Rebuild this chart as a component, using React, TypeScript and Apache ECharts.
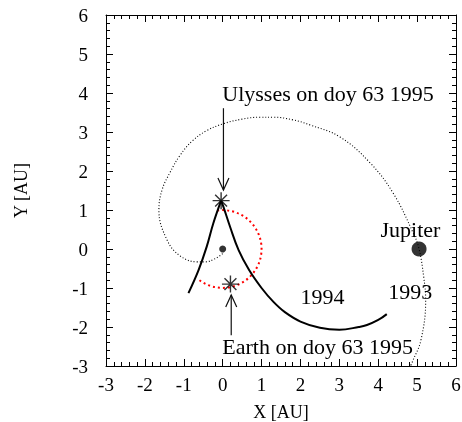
import React, { useEffect, useRef } from "react";
import * as echarts from "echarts";

// Ulysses trajectory (solid), split at the cusp
const ulyssesIn: number[][] = [
  [-0.88, -1.13], [-0.62, -0.54], [-0.41, 0.06], [-0.24, 0.66], [-0.04, 1.24],
];
const ulyssesOut: number[][] = [
  [-0.04, 1.24], [0.02, 1.08], [0.19, 0.57], [0.41, -0.03], [0.68, -0.54], [1.0, -1.0], [1.3, -1.35],
  [1.6, -1.62], [2.0, -1.86], [2.5, -2.02], [3.0, -2.07], [3.5, -2.0], [3.71, -1.95], [4.0, -1.82], [4.22, -1.67],
];
// Earlier trajectory (dotted)
const earlyPath: number[][] = [
  [0.0, -0.12], [-0.2, -0.25], [-0.45, -0.33], [-0.65, -0.33], [-1.09, -0.18], [-1.43, 0.23], [-1.64, 1.0],
  [-1.56, 1.51], [-1.35, 1.97], [-1.09, 2.41], [-0.78, 2.77], [-0.42, 3.03], [0.01, 3.21], [0.5, 3.33],
  [0.96, 3.38], [1.3, 3.38], [1.81, 3.31], [2.25, 3.18], [3.02, 2.87], [3.79, 2.21], [4.38, 1.44],
  [4.9, 0.41], [5.05, 0.0], [5.17, -0.72], [5.22, -1.31], [5.1, -2.33], [4.88, -2.89], [4.83, -3.0],
];
// Earth orbit arc: centre, radius, start / end angle (degrees, counter-clockwise)
const earthOrbit = [0, 0, 1, -131, 98];
const sun = [[0, 0]];
const jupiter = [[5.05, 0]];
const stars = [[-0.04, 1.24], [0.2, -0.9]];
// arrows: from (x1,y1) to tip (x2,y2)
const arrows = [
  [0.02, 3.61, 0.02, 1.51],
  [0.22, -2.21, 0.22, -1.18],
];
const labelPos = [
  [-0.01, 4.0], [-0.01, -2.51], [4.06, 0.49], [2.0, -1.21], [4.26, -1.09],
];
const labelText = ["Ulysses on doy 63 1995", "Earth on doy 63 1995", "Jupiter", "1994", "1993"];

const FONT = "'Liberation Serif', 'Times New Roman', serif";
const STAR = "path://M0,-10L0,10M-10,0L10,0M-7,-7L7,7M-7,7L7,-7";

export default function App() {
  const ref = useRef<HTMLDivElement>(null);
  useEffect(() => {
    if (!ref.current) return;
    const chart = echarts.init(ref.current, null, { renderer: "svg" });
    const tickCommon = {
      axisLine: { show: true, onZero: false, lineStyle: { color: "#000", width: 1 } },
      axisTick: { show: true, inside: true, length: 7, lineStyle: { color: "#000" } },
      minorTick: { show: true, splitNumber: 5, length: 4, lineStyle: { color: "#000" } },
      splitLine: { show: false },
      min: -3, max: 6, interval: 1,
    };
    chart.setOption({
      animation: false,
      grid: { left: 106, top: 15, width: 350, height: 351, show: false, containLabel: false, outerBoundsMode: "none" },
      xAxis: [
        {
          type: "value", position: "bottom", ...tickCommon,
          axisLabel: { color: "#000", fontFamily: FONT, fontSize: 19, margin: 9 },
          name: "X [AU]", nameLocation: "middle", nameGap: 37,
          nameTextStyle: { color: "#000", fontFamily: FONT, fontSize: 18 },
        },
        { type: "value", position: "top", ...tickCommon, axisLabel: { show: false } },
      ],
      yAxis: [
        {
          type: "value", position: "left", ...tickCommon,
          axisLabel: { color: "#000", fontFamily: FONT, fontSize: 19, margin: 18 },
          name: "Y [AU]", nameLocation: "middle", nameGap: 76,
          nameTextStyle: { color: "#000", fontFamily: FONT, fontSize: 18 },
        },
        { type: "value", position: "right", ...tickCommon, axisLabel: { show: false } },
      ],
      series: [
        {
          type: "line", data: earlyPath, showSymbol: false, smooth: 0.4,
          lineStyle: { color: "#000", width: 1.1, type: [1, 2] },
        },
        {
          type: "custom", renderItem: (params: any, api: any) => {
            const c = api.coord([api.value(0), api.value(1)]);
            const s = api.size([api.value(2), api.value(2)]);
            const a0 = api.value(3), a1 = api.value(4);
            return {
              type: "arc",
              shape: { cx: c[0], cy: c[1], r: s[0], startAngle: (-a1 * Math.PI) / 180, endAngle: (-a0 * Math.PI) / 180, clockwise: true },
              style: { stroke: "#ff0000", lineWidth: 2, lineDash: [2, 3], fill: "none" },
            };
          },
          data: [earthOrbit],
        },
        {
          type: "line", data: ulyssesIn, showSymbol: false, smooth: 0.4,
          lineStyle: { color: "#000", width: 2 },
        },
        {
          type: "line", data: ulyssesOut, showSymbol: false, smooth: 0.4,
          lineStyle: { color: "#000", width: 2 },
        },
        {
          type: "scatter", data: sun, symbol: "circle", symbolSize: 7,
          itemStyle: { color: "#000" },
        },
        {
          type: "scatter", data: jupiter, symbol: "circle", symbolSize: 15,
          itemStyle: { color: "#000" },
        },
        {
          type: "scatter", data: stars, symbol: STAR, symbolSize: 17,
          itemStyle: { color: "none", borderColor: "#000", borderWidth: 1.4 },
        },
        {
          type: "custom", renderItem: (params: any, api: any) => {
            const p1 = api.coord([api.value(0), api.value(1)]);
            const p2 = api.coord([api.value(2), api.value(3)]);
            const dx = p2[0] - p1[0], dy = p2[1] - p1[1];
            const len = Math.sqrt(dx * dx + dy * dy);
            const ux = dx / len, uy = dy / len;
            const hl = 12, hw = 5.5;
            const b = [p2[0] - ux * hl, p2[1] - uy * hl];
            return {
              type: "group",
              children: [
                { type: "line", shape: { x1: p1[0], y1: p1[1], x2: p2[0], y2: p2[1] }, style: { stroke: "#111", lineWidth: 1.2 } },
                {
                  type: "polyline",
                  shape: { points: [[b[0] - uy * hw, b[1] + ux * hw], p2, [b[0] + uy * hw, b[1] - ux * hw]] },
                  style: { stroke: "#111", lineWidth: 1.2, fill: "none" },
                },
              ],
            };
          },
          data: arrows,
        },
        {
          type: "custom", renderItem: (params: any, api: any) => {
            const p = api.coord([api.value(0), api.value(1)]);
            return {
              type: "text",
              x: p[0], y: p[1],
              style: {
                text: labelText[params.dataIndex], fill: "#000",
                font: `22px ${FONT}`, textAlign: "left", textVerticalAlign: "middle",
              },
            };
          },
          data: labelPos,
        },
      ],
    });
    return () => chart.dispose();
  }, []);
  return <div ref={ref} style={{ position: "fixed", left: 0, top: 0, width: 462, height: 422 }} />;
}
